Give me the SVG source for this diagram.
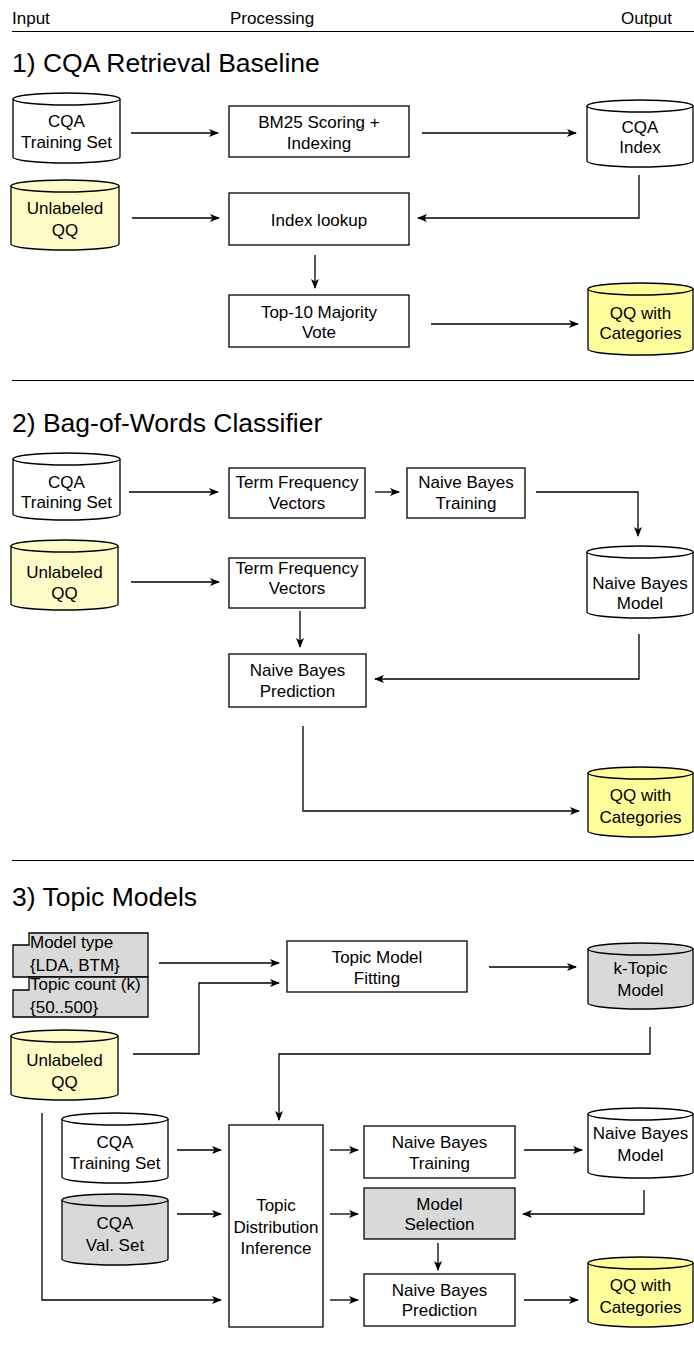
<svg xmlns="http://www.w3.org/2000/svg" width="694" height="1349" viewBox="0 0 694 1349">
  <style>
    text { font-family: "Liberation Sans", Arial, Helvetica, sans-serif; fill: #000; }
    .hdr { font-size: 17px; }
    .ttl { font-size: 26.5px; }
    .lbl { font-size: 17px; text-anchor: middle; }
    .par { font-size: 17px; }
    .box { fill: #fff; stroke: #000; stroke-width: 1.3; }
    .gray { fill: #d9d9d9; }
    .pale { fill: #fdfbc8; }
    .yel { fill: #fffc9c; }
    .cyl { stroke: #000; stroke-width: 1.3; }
    .rim { fill: none; stroke: #000; stroke-width: 1.3; }
    .sep { stroke: #000; stroke-width: 1.2; }
    .edge { fill: none; stroke: #000; stroke-width: 1.3; marker-end: url(#arr); }
  </style>
  <defs>
    <marker id="arr" viewBox="0 0 10 8" refX="9" refY="4" markerWidth="10" markerHeight="8" markerUnits="userSpaceOnUse" orient="auto">
      <path d="M0,0 L10,4 L0,8 L2.5,4 Z" fill="#000"/>
    </marker>
  </defs>

  <!-- column header -->
  <g id="header">
    <text class="hdr" x="12" y="24">Input</text>
    <text class="hdr" x="230" y="24">Processing</text>
    <text class="hdr" x="621" y="24">Output</text>
    <line class="sep" x1="12" y1="31.5" x2="694" y2="31.5"/>
  </g>

  <!-- ===== 1) CQA Retrieval Baseline ===== -->
  <text class="ttl" x="12" y="72">1) CQA Retrieval Baseline</text>

  <g id="s1-cqa-train">
    <path class="cyl" fill="#fff" d="M13,99 A53.5,6 0 0 1 120,99 V157 A53.5,6 0 0 1 13,157 Z"/>
    <path class="rim" d="M13,99 A53.5,6 0 0 0 120,99"/>
    <text class="lbl" x="66.5" y="127">CQA</text>
    <text class="lbl" x="66.5" y="148">Training Set</text>
  </g>
  <g id="s1-bm25">
    <rect class="box" x="229" y="106" width="180" height="51"/>
    <text class="lbl" x="319" y="128">BM25 Scoring +</text>
    <text class="lbl" x="319" y="149">Indexing</text>
  </g>
  <g id="s1-cqa-index">
    <path class="cyl" fill="#fff" d="M587,106 A53,6 0 0 1 693,106 V161 A53,6 0 0 1 587,161 Z"/>
    <path class="rim" d="M587,106 A53,6 0 0 0 693,106"/>
    <text class="lbl" x="640" y="133">CQA</text>
    <text class="lbl" x="640" y="153">Index</text>
  </g>
  <g id="s1-unlabeled">
    <path class="cyl pale" d="M11,186 A54,6 0 0 1 119,186 V244 A54,6 0 0 1 11,244 Z"/>
    <path class="rim" d="M11,186 A54,6 0 0 0 119,186"/>
    <text class="lbl" x="65" y="214">Unlabeled</text>
    <text class="lbl" x="65" y="236">QQ</text>
  </g>
  <g id="s1-lookup">
    <rect class="box" x="229" y="193" width="180" height="52"/>
    <text class="lbl" x="319" y="226">Index lookup</text>
  </g>
  <g id="s1-vote">
    <rect class="box" x="229" y="295" width="180" height="52"/>
    <text class="lbl" x="319" y="318">Top-10 Majority</text>
    <text class="lbl" x="319" y="338">Vote</text>
  </g>
  <g id="s1-qq-cat">
    <path class="cyl yel" d="M588,289 A52.5,6 0 0 1 693,289 V349 A52.5,6 0 0 1 588,349 Z"/>
    <path class="rim" d="M588,289 A52.5,6 0 0 0 693,289"/>
    <text class="lbl" x="640.5" y="319">QQ with</text>
    <text class="lbl" x="640.5" y="339">Categories</text>
  </g>

  <g id="s1-edges">
    <path class="edge" d="M131,133 H218"/>
    <path class="edge" d="M422,133 H576"/>
    <path class="edge" d="M639,175 V218 H418"/>
    <path class="edge" d="M132,218 H219"/>
    <path class="edge" d="M315,255 V288"/>
    <path class="edge" d="M431,324 H578"/>
  </g>

  <line class="sep" x1="12" y1="380.5" x2="694" y2="380.5"/>

  <!-- ===== 2) Bag-of-Words Classifier ===== -->
  <text class="ttl" x="12" y="432">2) Bag-of-Words Classifier</text>

  <g id="s2-cqa-train">
    <path class="cyl" fill="#fff" d="M13,459 A53.5,6 0 0 1 120,459 V514 A53.5,6 0 0 1 13,514 Z"/>
    <path class="rim" d="M13,459 A53.5,6 0 0 0 120,459"/>
    <text class="lbl" x="66.5" y="488">CQA</text>
    <text class="lbl" x="66.5" y="508">Training Set</text>
  </g>
  <g id="s2-tf1">
    <rect class="box" x="229" y="468" width="136" height="50"/>
    <text class="lbl" x="297" y="488">Term Frequency</text>
    <text class="lbl" x="297" y="509">Vectors</text>
  </g>
  <g id="s2-nb-train">
    <rect class="box" x="407" y="468" width="118" height="50"/>
    <text class="lbl" x="466" y="488">Naive Bayes</text>
    <text class="lbl" x="466" y="509">Training</text>
  </g>
  <g id="s2-unlabeled">
    <path class="cyl pale" d="M11,546 A53.5,6 0 0 1 118,546 V604 A53.5,6 0 0 1 11,604 Z"/>
    <path class="rim" d="M11,546 A53.5,6 0 0 0 118,546"/>
    <text class="lbl" x="64.5" y="578">Unlabeled</text>
    <text class="lbl" x="64.5" y="599">QQ</text>
  </g>
  <g id="s2-tf2">
    <rect class="box" x="229" y="558" width="136" height="50"/>
    <text class="lbl" x="297" y="574">Term Frequency</text>
    <text class="lbl" x="297" y="594">Vectors</text>
  </g>
  <g id="s2-nb-model">
    <path class="cyl" fill="#fff" d="M587,552 A53,6 0 0 1 693,552 V612 A53,6 0 0 1 587,612 Z"/>
    <path class="rim" d="M587,552 A53,6 0 0 0 693,552"/>
    <text class="lbl" x="640" y="589">Naive Bayes</text>
    <text class="lbl" x="640" y="609">Model</text>
  </g>
  <g id="s2-nb-pred">
    <rect class="box" x="229" y="654" width="137" height="53"/>
    <text class="lbl" x="297.5" y="676">Naive Bayes</text>
    <text class="lbl" x="297.5" y="697">Prediction</text>
  </g>
  <g id="s2-qq-cat">
    <path class="cyl yel" d="M588,773 A52.5,6 0 0 1 693,773 V831 A52.5,6 0 0 1 588,831 Z"/>
    <path class="rim" d="M588,773 A52.5,6 0 0 0 693,773"/>
    <text class="lbl" x="640.5" y="801">QQ with</text>
    <text class="lbl" x="640.5" y="823">Categories</text>
  </g>

  <g id="s2-edges">
    <path class="edge" d="M129,492 H218"/>
    <path class="edge" d="M375,492 H399"/>
    <path class="edge" d="M536,492 H638 V536"/>
    <path class="edge" d="M131,582 H219"/>
    <path class="edge" d="M300,611 V647"/>
    <path class="edge" d="M639,634 V679 H375"/>
    <path class="edge" d="M303,726 V811 H579"/>
  </g>

  <line class="sep" x1="12" y1="860.5" x2="694" y2="860.5"/>

  <!-- ===== 3) Topic Models ===== -->
  <text class="ttl" x="12" y="906">3) Topic Models</text>

  <g id="s3-param-type">
    <path class="box gray" d="M29,933 H148 V977 H13 V945 H29 Z"/>
    <text class="par" x="30" y="948">Model type</text>
    <text class="par" x="30" y="971">{LDA, BTM}</text>
  </g>
  <g id="s3-param-k">
    <path class="box gray" d="M29,977 H148 V1017 H13 V990 H29 Z"/>
    <text class="par" x="30" y="990">Topic count (k)</text>
    <text class="par" x="30" y="1013">{50..500}</text>
  </g>
  <g id="s3-unlabeled">
    <path class="cyl pale" d="M11,1036 A53.5,6 0 0 1 118,1036 V1094 A53.5,6 0 0 1 11,1094 Z"/>
    <path class="rim" d="M11,1036 A53.5,6 0 0 0 118,1036"/>
    <text class="lbl" x="64.5" y="1066">Unlabeled</text>
    <text class="lbl" x="64.5" y="1088">QQ</text>
  </g>
  <g id="s3-fit">
    <rect class="box" x="287" y="941" width="180" height="51"/>
    <text class="lbl" x="377" y="963">Topic Model</text>
    <text class="lbl" x="377" y="984">Fitting</text>
  </g>
  <g id="s3-ktopic">
    <path class="cyl gray" d="M588,949 A52.5,6 0 0 1 693,949 V1003 A52.5,6 0 0 1 588,1003 Z"/>
    <path class="rim" d="M588,949 A52.5,6 0 0 0 693,949"/>
    <text class="lbl" x="640.5" y="974">k-Topic</text>
    <text class="lbl" x="640.5" y="996">Model</text>
  </g>
  <g id="s3-cqa-train">
    <path class="cyl" fill="#fff" d="M62,1119 A53,6 0 0 1 168,1119 V1177 A53,6 0 0 1 62,1177 Z"/>
    <path class="rim" d="M62,1119 A53,6 0 0 0 168,1119"/>
    <text class="lbl" x="115" y="1148">CQA</text>
    <text class="lbl" x="115" y="1169">Training Set</text>
  </g>
  <g id="s3-cqa-val">
    <path class="cyl gray" d="M62,1200 A53,6 0 0 1 168,1200 V1259 A53,6 0 0 1 62,1259 Z"/>
    <path class="rim" d="M62,1200 A53,6 0 0 0 168,1200"/>
    <text class="lbl" x="115" y="1229">CQA</text>
    <text class="lbl" x="115" y="1251">Val. Set</text>
  </g>
  <g id="s3-infer">
    <rect class="box" x="229" y="1125" width="94" height="202"/>
    <text class="lbl" x="276" y="1211">Topic</text>
    <text class="lbl" x="276" y="1233">Distribution</text>
    <text class="lbl" x="276" y="1254">Inference</text>
  </g>
  <g id="s3-nb-train">
    <rect class="box" x="364" y="1126" width="151" height="52"/>
    <text class="lbl" x="439.5" y="1148">Naive Bayes</text>
    <text class="lbl" x="439.5" y="1169">Training</text>
  </g>
  <g id="s3-select">
    <rect class="box gray" x="364" y="1188" width="151" height="51"/>
    <text class="lbl" x="439.5" y="1210">Model</text>
    <text class="lbl" x="439.5" y="1230">Selection</text>
  </g>
  <g id="s3-nb-pred">
    <rect class="box" x="364" y="1274" width="151" height="52"/>
    <text class="lbl" x="439.5" y="1296">Naive Bayes</text>
    <text class="lbl" x="439.5" y="1316">Prediction</text>
  </g>
  <g id="s3-nb-model">
    <path class="cyl" fill="#fff" d="M588,1114 A52.5,6 0 0 1 693,1114 V1172 A52.5,6 0 0 1 588,1172 Z"/>
    <path class="rim" d="M588,1114 A52.5,6 0 0 0 693,1114"/>
    <text class="lbl" x="640.5" y="1139">Naive Bayes</text>
    <text class="lbl" x="640.5" y="1161">Model</text>
  </g>
  <g id="s3-qq-cat">
    <path class="cyl yel" d="M588,1263 A52.5,6 0 0 1 693,1263 V1321 A52.5,6 0 0 1 588,1321 Z"/>
    <path class="rim" d="M588,1263 A52.5,6 0 0 0 693,1263"/>
    <text class="lbl" x="640.5" y="1291">QQ with</text>
    <text class="lbl" x="640.5" y="1313">Categories</text>
  </g>

  <g id="s3-edges">
    <path class="edge" d="M159,963 H279"/>
    <path class="edge" d="M133,1054 H199 V983 H279"/>
    <path class="edge" d="M489,967 H576"/>
    <path class="edge" d="M650,1027 V1054 H279 V1120"/>
    <path class="edge" d="M177,1150 H221"/>
    <path class="edge" d="M177,1214 H221"/>
    <path class="edge" d="M42,1113 V1300 H221"/>
    <path class="edge" d="M330,1150 H358"/>
    <path class="edge" d="M330,1214 H358"/>
    <path class="edge" d="M330,1300 H358"/>
    <path class="edge" d="M524,1150 H582"/>
    <path class="edge" d="M644,1190 V1214 H523"/>
    <path class="edge" d="M438,1243 V1270"/>
    <path class="edge" d="M524,1300 H578"/>
  </g>
</svg>
